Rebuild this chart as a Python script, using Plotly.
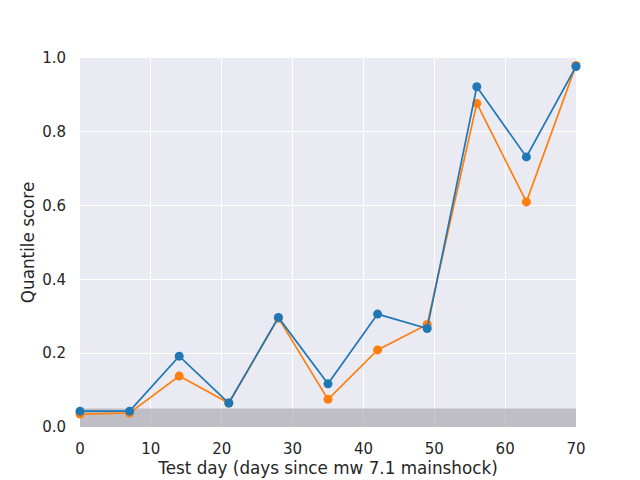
import plotly.graph_objects as go

days = [0, 7, 14, 21, 28, 35, 42, 49, 56, 63, 70]
blue_scores = [0.043, 0.043, 0.192, 0.065, 0.297, 0.117, 0.306, 0.267, 0.922, 0.732, 0.977]
orange_scores = [0.035, 0.038, 0.138, 0.065, 0.295, 0.075, 0.209, 0.278, 0.877, 0.610, 0.980]
threshold = 0.05
x_ticks = [0, 10, 20, 30, 40, 50, 60, 70]
y_ticks = [0.0, 0.2, 0.4, 0.6, 0.8, 1.0]

fig = go.Figure()
fig.add_trace(go.Scatter(x=days, y=orange_scores, mode="lines+markers",
                         line=dict(color="#ff7f0e", width=1.7),
                         marker=dict(color="#ff7f0e", size=9), showlegend=False))
fig.add_trace(go.Scatter(x=days, y=blue_scores, mode="lines+markers",
                         line=dict(color="#1f77b4", width=1.7),
                         marker=dict(color="#1f77b4", size=9), showlegend=False))

fig.add_shape(type="rect", xref="x", yref="y", x0=days[0], x1=days[-1], y0=0, y1=threshold,
              fillcolor="rgba(145,145,150,0.5)", line=dict(width=0), layer="between")

fig.update_layout(
    width=640, height=480,
    margin=dict(l=80, r=64, t=58, b=53),
    paper_bgcolor="white", plot_bgcolor="#EAEAF2",
    font=dict(family="DejaVu Sans", color="#262626", size=15),
    xaxis=dict(range=[0, 70], tickvals=x_ticks, showgrid=True, gridcolor="white", gridwidth=1.2,
               zeroline=False, showline=False, ticks="", ticklabelstandoff=11, automargin=False,
               title=dict(text="Test day (days since mw 7.1 mainshock)", font=dict(size=16.8), standoff=4)),
    yaxis=dict(range=[0, 1.0], tickvals=y_ticks, tickformat=".1f", showgrid=True, gridcolor="white", gridwidth=1.2,
               zeroline=False, showline=False, ticks="", ticklabelstandoff=13, automargin=False,
               title=dict(text="Quantile score", font=dict(size=16.8), standoff=3)),
)
fig.update_traces(cliponaxis=False)
fig.write_html("out.html")
